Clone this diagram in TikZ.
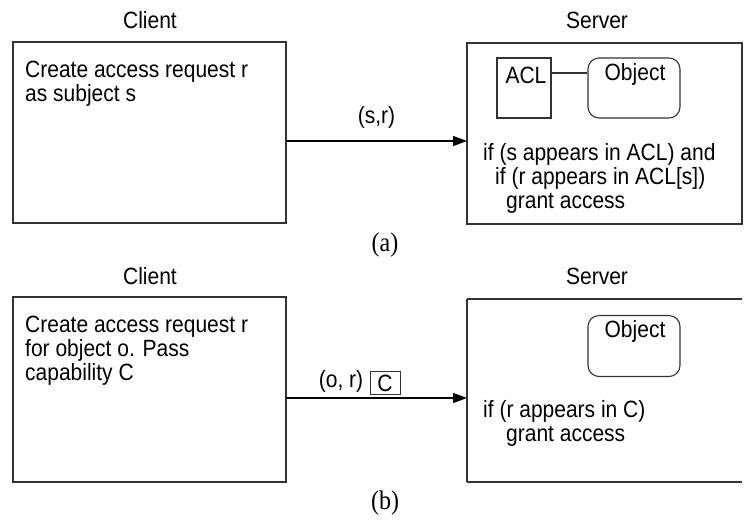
\documentclass[tikz,border=0pt]{standalone}
\usepackage{fontspec}
\setsansfont{Liberation Sans}
\newfontfamily\capfont{Liberation Serif}
\usetikzlibrary{arrows.meta}
\definecolor{ln}{HTML}{333333}
\newcommand\vs[1]{\scalebox{1}[1.12]{#1}}
\begin{document}
\begin{tikzpicture}[x=1pt,y=-1pt,
  box/.style={draw=ln,line width=1.3pt},
  lbl/.style={font=\sffamily\fontsize{21}{24}\selectfont,inner sep=0pt},
  txt/.style={font=\sffamily\fontsize{21}{24}\selectfont,inner sep=0pt,anchor=base west,align=left},
  subcap/.style={font=\capfont\fontsize{24}{28}\selectfont,inner sep=0pt},
  arr/.style={draw=black,line width=1.2pt,-{Triangle[length=14pt,width=10pt]}}]
\useasboundingbox (0,0) rectangle (747,523);
% ---------- (a) ----------
\node[lbl] (clA) at (150,20) {\vs{Client}};
\node[lbl] (svA) at (597,20) {\vs{Server}};
\draw[box] (13,42) rectangle (286,223);
\coordinate (clAout) at (286,141);
\node[txt] (tA1) at (25,77) {\vs{Create access request r}};
\node[txt] (tA2) at (25,101) {\vs{as subject s}};
\draw[box] (467,43) rectangle (742,224);
\coordinate (svAin) at (467,141);
\draw[arr] (clAout) -- node[lbl,above=12pt] (lA) {\vs{(s,r)}} (svAin);
\node[draw=ln,line width=1.1pt,minimum width=54pt,minimum height=60pt,inner sep=0pt] (acl) at (524,88) {};
\node[lbl] (aclt) at (526,75) {\vs{ACL}};
\node[draw=ln,line width=1.1pt,rounded corners=11pt,minimum width=92pt,minimum height=60pt,inner sep=0pt] (objA) at (634,88) {};
\node[lbl] (objAt) at (635,74) {\vs{Object}};
\draw[ln,line width=1.1pt] (acl.east |- 0,73) -- (objA.west |- 0,73);
\node[txt] (cA1) at (483,160) {\vs{if (s appears in ACL) and}};
\node[txt] (cA2) at (495,184) {\vs{if (r appears in ACL[s])}};
\node[txt] (cA3) at (506,208) {\vs{grant access}};
\node[subcap] (capa) at (385,245) {\vs{(a)}};
% ---------- (b) ----------
\node[lbl] (clB) at (150,276) {\vs{Client}};
\node[lbl] (svB) at (597,276) {\vs{Server}};
\draw[box] (13,297) rectangle (286,482);
\coordinate (clBout) at (286,398);
\node[txt] (tB1) at (25,332) {\vs{Create access request r}};
\node[txt] (tB2) at (25,356) {\vs{for object o. Pass}};
\node[txt] (tB3) at (25,380) {\vs{capability C}};
\draw[box] (467,299) -- (742,299) (467,482) -- (742,482) (467,299) -- (467,482);
\coordinate (svBin) at (467,398);
\draw[arr] (clBout) -- (svBin);
\node[lbl] (lB) at (341,381) {\vs{(o, r)}};
\node[draw=ln,line width=1pt,minimum width=30pt,minimum height=23pt,inner sep=0pt,font=\sffamily\fontsize{21}{24}\selectfont] (cB) at (385,383) {\vs{C}};
\node[draw=ln,line width=1.1pt,rounded corners=11pt,minimum width=92pt,minimum height=61pt,inner sep=0pt] (objB) at (634,346) {};
\node[lbl] (objBt) at (635,331) {\vs{Object}};
\node[txt] (cB1) at (483,417) {\vs{if (r appears in C)}};
\node[txt] (cB2) at (506,441) {\vs{grant access}};
\node[subcap] (capb) at (385,503) {\vs{(b)}};
\end{tikzpicture}
\end{document}
